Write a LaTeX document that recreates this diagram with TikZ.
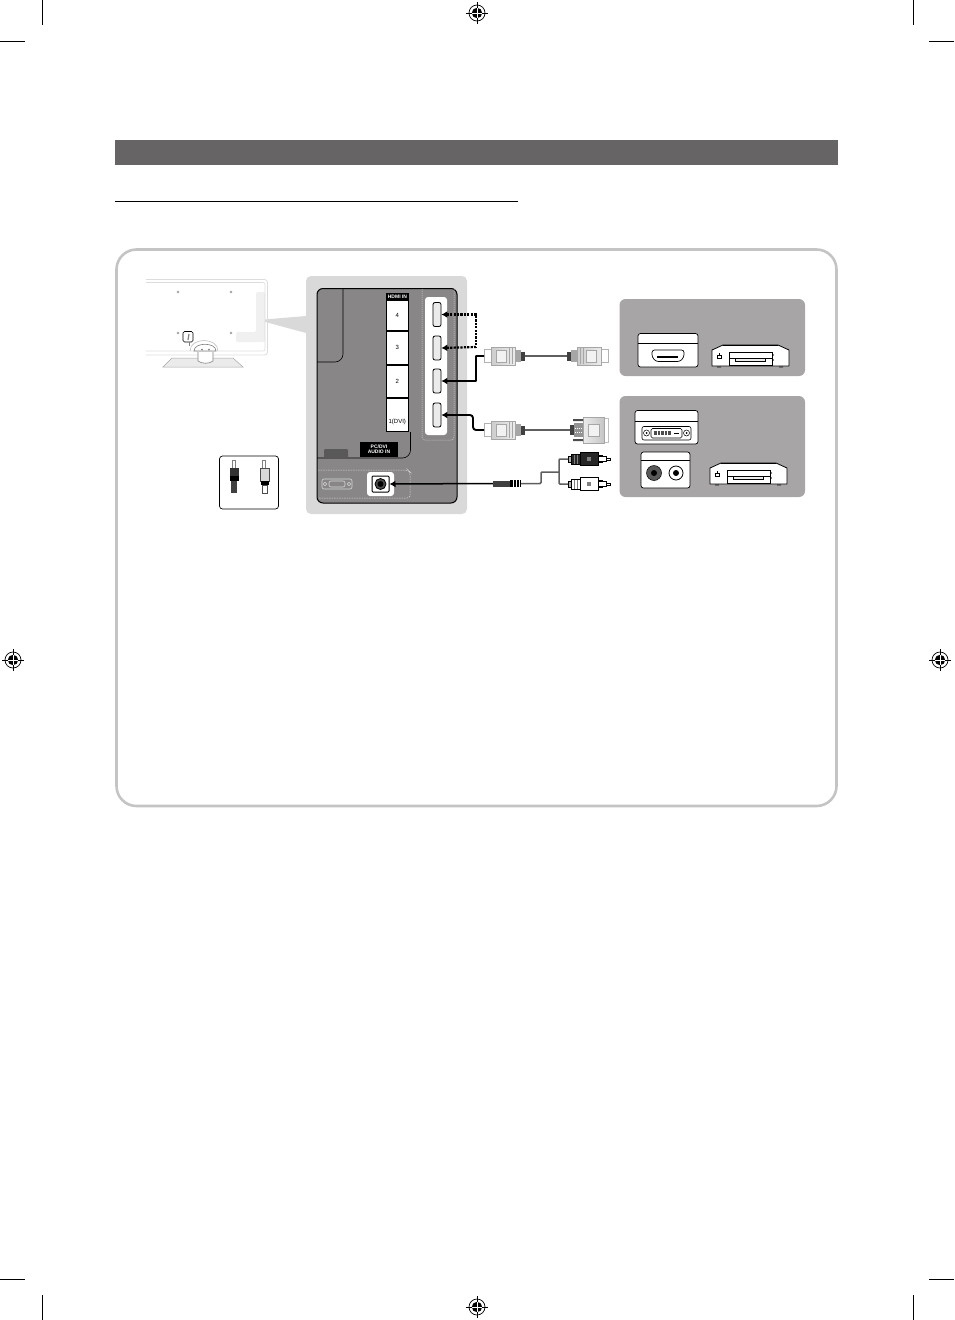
\documentclass[tikz,border=0pt]{standalone}
\usepackage{fontspec}
\setmainfont{Liberation Sans}
\usepackage{xcolor}
\usetikzlibrary{arrows.meta}
\usetikzlibrary{calc}

\definecolor{bargray}{HTML}{666464}
\definecolor{framegray}{HTML}{C4C4C4}
\definecolor{pagegray}{HTML}{D9D9D9}
\definecolor{rackgray}{HTML}{888686}
\definecolor{devgray}{HTML}{A7A5A5}
\definecolor{tvgray}{HTML}{DCDCDC}
\definecolor{cablegray}{HTML}{5F5F5F}

\begin{document}
\begin{tikzpicture}[
  x=1pt, y=-1pt,
  crop/.style={line width=1pt},
  port/.style={
    draw,
    fill=black!8,
    rounded corners=2pt,
    line width=0.8pt,
    minimum width=8pt,
    minimum height=24pt,
    inner sep=0pt
  },
  cell/.style={
    draw,
    fill=white,
    line width=0.6pt,
    minimum width=22pt,
    inner sep=0pt,
    font=\fontsize{6}{6}\selectfont
  },
  tag/.style={
    fill=black,
    text=white,
    inner sep=0pt,
    align=center,
    font=\fontsize{5}{5}\selectfont\bfseries
  },
  wire/.style={line width=1.9pt, arrows={Latex[length=6pt,width=7pt]-}},
  dotwire/.style={wire, line width=2.2pt, dash pattern=on 2.2pt off 1.2pt},
  cable/.style={draw=cablegray, line width=1.5pt},
  devbox/.style={draw, fill=white, line width=0.7pt, rounded corners=2.5pt},
  pics/hdmiplug/.style={code={
    \draw[draw=gray!60, fill=white, line width=0.5pt] (0,-6.5) rectangle (7,6.5);
    \draw[draw=gray!70, left color=gray!40, right color=gray!15, line width=0.5pt] (7,-9) rectangle (31,9);
    \draw[draw=gray!70, fill=gray!10, line width=0.5pt] (12,-6) rectangle (22,6);
    \draw[gray!70, line width=0.5pt] (25,-8) -- (25,8) (28,-8) -- (28,8);
    \fill[gray!70] (31,-6) rectangle (37,6);
    \fill[black!75] (37,-4.5) rectangle (41,4.5);
    \coordinate (-tail) at (0,0);
    \coordinate (-cable) at (41,0);
  }},
  pics/dviplug/.style={code={
    \draw[draw=gray!50, fill=white, line width=0.5pt] (0,-12) rectangle (4,12);
    \draw[draw=gray!70, left color=gray!15, right color=gray!45, line width=0.5pt] (4,-13) rectangle (25,13);
    \draw[draw=gray!70, fill=gray!10, line width=0.5pt] (9,-6) rectangle (20,6);
    \fill[gray!85] (25,-7) rectangle (34,7);
    \fill[black!70] (25,-11) rectangle (35,-9) (25,9) rectangle (35,11);
    \fill[black!75] (34,-5) rectangle (38,5);
    \draw[white, line width=1pt, dash pattern=on 1pt off 1pt] (26,-2) -- (33,-2) (26,2) -- (33,2);
    \coordinate (-cable) at (38,0);
  }},
  pics/rcaplug/.style={code={
    \draw[fill=#1, line width=0.5pt] (30,-3.5) rectangle (34,3.5);
    \draw[fill=white, line width=0.5pt] (30,-2.5) rectangle (38,2.5);
    \draw[fill=white, line width=0.4pt] (38,-1) rectangle (42,1);
    \draw[fill=#1, line width=0.6pt] (12,-6.5) rectangle (30,6.5);
    \draw[fill=gray!60, line width=0.5pt] (0,-3) rectangle (3,3);
    \draw[fill=#1, line width=0.5pt] (3,-5) rectangle (12,5);
    \draw[gray, line width=0.5pt] (6,-4.5) -- (6,4.5) (9,-4.5) -- (9,4.5);
    \fill[gray] (19,-2) rectangle (23,2);
    \coordinate (-tail) at (0,0);
  }},
  pics/player/.style={code={
    \draw[fill=white, line width=0.8pt, line join=round] (1,5) -- (12,0) -- (67,0) -- (78,5) -- (78,21) -- (1,21) -- cycle;
    \draw[line width=0.8pt] (12,0.6) -- (67,0.6);
    \draw[line width=0.7pt] (18,7) rectangle (61,20);
    \draw[line width=0.5pt] (18,13) -- (61,13);
    \draw[fill=gray!15, line width=0.5pt] (24,13) rectangle (54,16.5);
    \draw[line width=0.6pt] (6,10) rectangle (10,13);
    \draw[line width=0.6pt] (8,8) -- (8,10);
    \fill (62.5,10) circle (0.7) (62.5,15) circle (0.7);
    \fill[black!70] (6,21) rectangle (10,22.5) (68,21) rectangle (72,22.5);
  }},
  pics/regmark/.style={code={
    \draw[line width=0.7pt] (0,0) circle (8);
    \fill (0,0) circle (5.2);
    \draw[line width=0.7pt] (-11,0) -- (11,0) (0,-11) -- (0,11);
    \draw[white, line width=0.8pt] (-5,0) -- (5,0) (0,-5) -- (0,5);
  }}
]
\useasboundingbox (0,0) rectangle (954,1320);

% crop marks and registration
\draw[crop] (42,0) -- (42,25) (0,41) -- (25,41);
\draw[crop] (913,0) -- (913,25) (929,41) -- (954,41);
\draw[crop] (42,1295) -- (42,1320) (0,1279) -- (25,1279);
\draw[crop] (913,1295) -- (913,1320) (929,1279) -- (954,1279);
\pic at (477,13) {regmark};
\pic at (477,1307) {regmark};
\pic at (13,660) {regmark};
\pic at (940,660) {regmark};

% heading
\fill[bargray] (115,140) rectangle (838,165);
\draw[line width=0.9pt] (115,201) -- (518,201);
\draw[framegray, line width=2.6pt, rounded corners=20pt] (116.5,249.5) rectangle (836.5,806);

% TV
\fill[pagegray] (258,320) -- (306,316) -- (306,333) -- cycle;
\fill[black!6, rounded corners=1.5pt] (256,292) -- (256,332) -- (236,332) -- (236,342) -- (265,342) -- (265,292) -- cycle;
\draw[tvgray, line width=0.8pt, rounded corners=3pt] (146,279.5) -- (267.5,279.5) -- (267.5,355) -- (146,355);
\draw[tvgray, line width=0.6pt, rounded corners=2pt] (146,282.5) -- (265,282.5) -- (265,351) -- (146,351);
\draw[fill=black!8, draw=gray!70, line width=0.5pt] (163,367) -- (172,358) -- (233,358) -- (243,367) -- cycle;
\draw[fill=white, draw=gray, line width=0.6pt] (198,352) -- (198,361) .. controls (202,364) and (209,364) .. (213,361) -- (213,352);
\draw[draw=gray!60, line width=0.5pt] (190,351) .. controls (190,337) and (218,337) .. (218,351);
\draw[fill=white, draw=gray, line width=0.6pt] (194,351) .. controls (194,342) and (216,342) .. (216,351) -- cycle;
\fill[gray] (202,349.5) circle (1) (209,349.5) circle (1);
\foreach \sx/\sy in {178/292, 231/292, 178/333, 231/333} {
  \draw[gray, line width=0.4pt] (\sx,\sy) circle (1.2);
}
\draw[line width=0.6pt, rounded corners=1.5pt] (183,331.5) rectangle (193,342);
\draw[gray, line width=1.2pt] (189,334) -- (188,340);
\draw[gray, line width=0.5pt] (189,342) -- (189,346);

% plugs inset
\draw[fill=white, line width=0.7pt, rounded corners=3pt] (219.5,456) rectangle (278.5,509);
\draw[fill=white, draw=gray, line width=0.4pt] (232.5,460) rectangle (235.5,468);
\fill[black!80] (229.5,468) rectangle (238.5,476);
\fill[black] (229.5,476) rectangle (238.5,481);
\fill[black!75] (231,481) rectangle (237,493);
\draw[fill=white, draw=gray, line width=0.4pt] (262.5,460) rectangle (265.5,468);
\draw[fill=gray!30, draw=black!70, line width=0.4pt] (260,468) rectangle (269.5,481);
\fill[black] (260.5,481) rectangle (269,485);
\draw[fill=white, draw=black!70, line width=0.4pt] (262,485) rectangle (267.5,493);

% TV back panel
\fill[pagegray, rounded corners=5pt] (306,276) rectangle (467,514);
\draw[fill=rackgray, line width=1pt, rounded corners=6pt] (317,288.5) rectangle (457,503);
\draw[line width=0.6pt, rounded corners=8pt] (343,288.5) -- (343,362) -- (317,362);
\draw[line width=0.6pt, rounded corners=8pt] (410.5,432) -- (410.5,458) -- (317,458);
\draw[gray!30, line width=0.5pt, dash pattern=on 1pt off 1pt, rounded corners=3pt] (422,289) -- (422,440) -- (454,440) -- (454,289);
\draw[gray!30, line width=0.5pt, dash pattern=on 1.5pt off 1pt, rounded corners=3pt] (318,470) -- (408,470) -- (410,472) -- (410,498) -- (318,498);
\fill[white, rounded corners=3pt] (425,297) rectangle (447,435);

\node[tag, minimum width=22.5pt, minimum height=7pt, anchor=north west] (hdmititle) at (386,293) {HDMI IN};
\node[cell, minimum height=30.4pt, anchor=north] (cellfour) at (397.25,300) {4};
\node[cell, minimum height=32.9pt, anchor=north] (cellthree) at (cellfour.south) {3};
\node[cell, minimum height=32.9pt, anchor=north] (celltwo) at (cellthree.south) {2};
\node[cell, minimum height=33.4pt, anchor=north] (cellone) at (celltwo.south) {\raisebox{-8pt}[0pt][0pt]{1(DVI)}};

\node[port] (portfour) at (437,314.5) {};
\node[port] (portthree) at (437,348) {};
\node[port] (porttwo) at (437,381) {};
\node[port] (portone) at (437,415) {};

\node[tag, minimum width=38pt, minimum height=15pt] (pcaudio) at (379,449.5) {PC/DVI\\[-0.4pt]AUDIO IN};
\fill[black!65, rounded corners=1pt] (324,449) rectangle (348,458);

\draw[gray!30, line width=0.6pt, rounded corners=2pt] (322,479) rectangle (352,489);
\draw[gray!30, line width=0.6pt, rounded corners=2pt] (329,481) rectangle (345,487);
\draw[gray!30, line width=0.5pt] (325,484) circle (1.8) (349,484) circle (1.8);

\node[fill=white, rounded corners=3pt, minimum width=27pt, minimum height=24pt, inner sep=0pt] (jackplate) at (380.5,484) {};
\node[draw, fill=white, line width=1pt, rounded corners=1pt, minimum width=17pt, minimum height=16pt, inner sep=0pt] (jack) at (380.5,484) {};
\draw[fill=black!70, line width=0.8pt] (jack.center) circle (5.5);
\fill (jack.center) circle (3);

% devices
\fill[devgray, rounded corners=6pt] (619.5,299) rectangle (805,376);
\fill[devgray, rounded corners=6pt] (619.5,396) rectangle (805,497);

\draw[devbox] (638,333.5) rectangle (698,367);
\draw[line width=0.5pt] (638,343) -- (698,343);
\draw[line width=0.7pt, rounded corners=2.5pt] (652,350) -- (684,350) -- (684,357) -- (680,361.5) -- (656,361.5) -- (652,357) -- cycle;
\draw[line width=2pt] (657,356.5) -- (678,356.5);
\pic at (711,345) {player};

\draw[devbox] (635,410.5) rectangle (698,444);
\draw[line width=0.5pt] (635,421) -- (698,421);
\draw[line width=0.6pt, rounded corners=2pt] (642,426.5) rectangle (691,440);
\draw[line width=0.6pt, rounded corners=1.5pt] (651,428.5) rectangle (682,438);
\draw[line width=0.5pt] (646.5,433) circle (3) (686.5,433) circle (3);
\fill (646.5,433) circle (1) (686.5,433) circle (1);
\draw[line width=3.5pt, dash pattern=on 0.7pt off 0.7pt, black!70] (653.5,433) -- (671,433);
\draw[line width=1pt] (674,433) -- (679,433);

\draw[devbox] (641,452) rectangle (690,488);
\draw[line width=0.5pt] (641,460.5) -- (690,460.5);
\draw[fill=black!65, line width=0.5pt] (654,473) circle (7.5);
\fill (654,473) circle (3);
\draw[fill=white, line width=0.8pt] (676,473) circle (7);
\fill (676,473) circle (3);
\pic at (709,463) {player};

% cables and plugs
\pic (hdmisrc) at (484,356) {hdmiplug};
\pic[xscale=-1] (hdmidev) at (608,356) {hdmiplug};
\draw[cable] (hdmisrc-cable) -- (hdmidev-cable);

\pic (dvisrc) at (484,430) {hdmiplug};
\pic[xscale=-1] (dvidev) at (608,430) {dviplug};
\draw[cable] (dvisrc-cable) -- (dvidev-cable);

\coordinate (jointop) at (476,347);
\coordinate (joinmid) at (476,356);
\coordinate (dvibend) at (473,430);
\draw[dotwire] (portfour.east) -| (jointop);
\draw[dotwire] (portthree.east) -- (jointop);
\draw[wire, rounded corners=0.5pt] (porttwo.east) -| (joinmid) -- (hdmisrc-tail);
\draw[wire, rounded corners=3pt] (portone.east) -| (dvibend) -- (dvisrc-tail);

\coordinate (audiotail) at (493,483.5);
\coordinate (audiobody) at (521,483.5);
\coordinate (audiobend) at (541,483.5);
\coordinate (ysplit) at (559,472);
\draw[wire, line width=1.5pt] (jack.east) -- (audiotail);
\fill[black!75] (493,480.5) rectangle (510,486.5);
\fill[black] (510,480) rectangle (521,487);
\draw[white, line width=0.4pt] (513,480) -- (513,487) (516,480) -- (516,487) (519,480) -- (519,487);
\pic (rcadark) at (568,459) {rcaplug=black!85};
\pic (rcalight) at (568,484) {rcaplug=white};
\draw[cable, rounded corners=1pt] (audiobody) -- (audiobend) |- (ysplit);
\draw[cable, rounded corners=1pt] (rcadark-tail) -| (ysplit);
\draw[cable, rounded corners=1pt] (rcalight-tail) -| (ysplit);

\end{tikzpicture}
\end{document}
